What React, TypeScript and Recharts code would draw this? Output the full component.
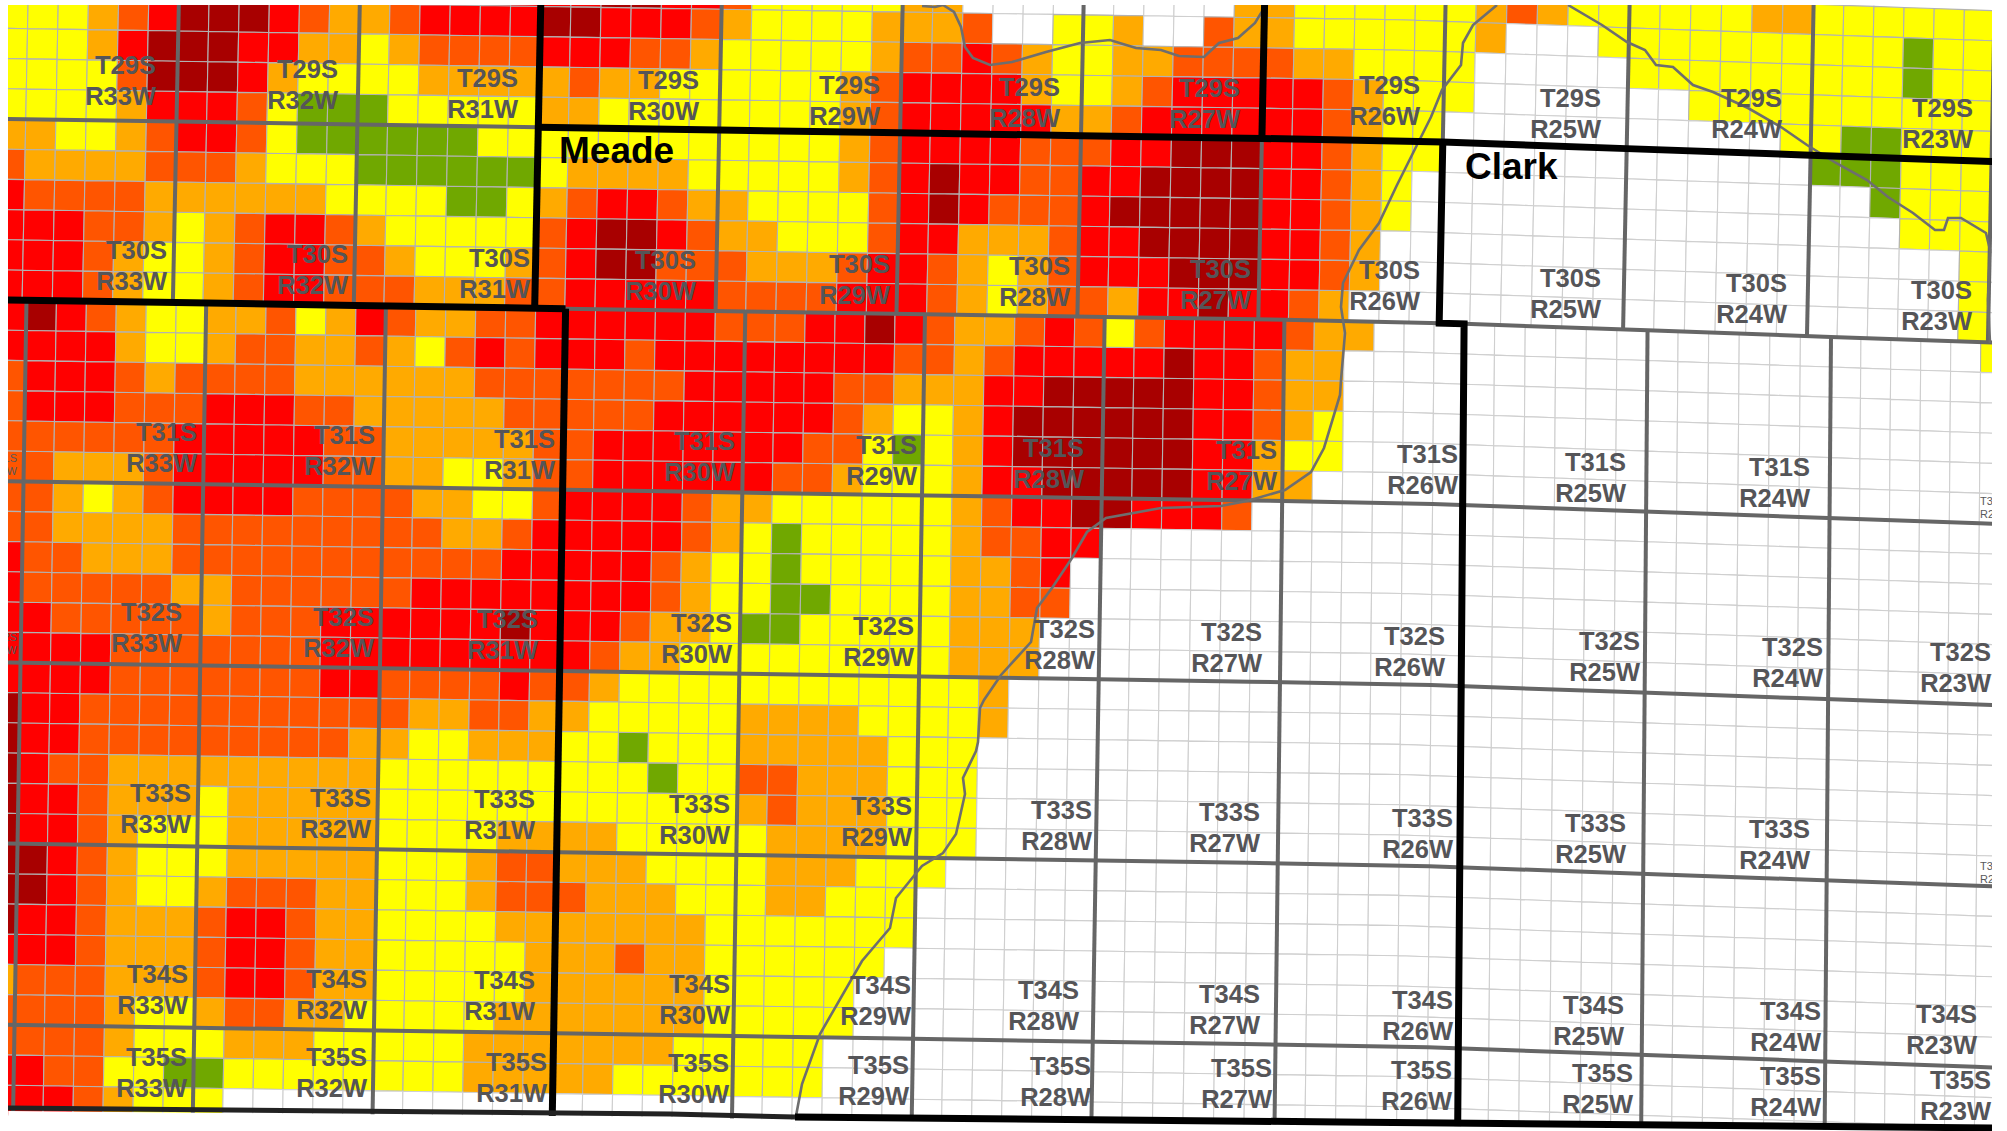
import { ScatterChart, Scatter, XAxis, YAxis } from "recharts";

const COLORS: Record<string, string> = {
  W: "#FFFFFF",
  Y: "#FFFF00",
  O: "#FFAA00",
  D: "#FF5500",
  R: "#FF0000",
  M: "#A80000",
  G: "#70A800",
};

// north block, townships T29S-T30S, one letter per section, R33W..R23W
const northRows = [
  "YYYODR MMMRDO ODRRRR RRMMRR DYYYYY OOWWWW WWWWWO OYYYYY YODOYY YYYYOO YYYYYY",
  "YYYODR MMMRDO ODRRRR MMRRRD OYYYYO OODWWY YOWWDO OYYYYY YOWWWY YYYYYY YYYGYY",
  "YYYORM MMRROO YODDDD RRRDDO YYYYYO DDRDOY YOODDD DOOYYY YWWWWW YYYYYY YYYGYY",
  "YYYYDM MMROYY YYOOOO ODOOYY YYYYOD RRRROY YODRRR RRDOYY YWWWWW WWYYYY YYYYYY",
  "YYYYOR RRDYGG GYYYYY OOYYYY YYYYOD RRRRRO ODRRRR RRDOYY WWWWWW WWWWWY YGGYYY",
  "OOYYOD RRDYGG GGGGYY YYYYYY YYYYOD RRRRDD DRRMMM RRDOYY WWWWWW WWWWWW GGGYYY",
  "DOOOOD DDOYYY GGGGGG YOOOOY YYYYOD RMRRDD RRMMMM RRDOYW WWWWWW WWWWWW WWGYYY",
  "RDDDDO OOOOOY YYYGGY ODRRDO OYYYYD RMRDDD RMMMMM RRDOYW WWWWWW WWWWWW WWWYYY",
  "RRRDDO YODRRD OYYYYY DRMMRD OOYYYD RROOOD RRMMMM RRDOWW WWWWWW WWWWWW WWWWWY",
  "RRRDOY YODRRD DOYYYO DRMMDD DOOODR RDOYOD RRRMMM RRDOWW WWWWWW WWWWWW WWWWWY",
  "RRRDOY YODRRD DDOOOD DRRRRR DDDDRR RDOYOD DORRMR RDOWWW WWWWWW WWWWWW WWWWWY",
];

// south block, T31S-T35S, first letter is the sliver of R34W, rest white to the east
const southRows = [
  "R MRDOYY OODYOR DOODDR RRRRRD DDRRMR DOODRD YDRRRR DOOWWW WWWWWW WWWWWW WWWWWY",
  "R RRROYY ODDOOD OYDRDR RRDRRR RRRRRD DODRRR RRMRRD OOWWWW",
  "D RRRDOD DDDOOO OOODDD DDDDRR RRRDDO OORRMM MMMRRD OOWWWW",
  "D RRRDDD RRRDDO OOOODD DDDRRR RRRDOY YORMMM MMMRRD OYWWWW",
  "D DDDDDR RRRRDD OOOOOD DRRRRR RRDDYG YORMMM MMMRRO YYWWWW",
  "D DOOODR RRRRDD OOYYOD DRRRRR RDDOYY YORRMM MMMRRO OWWWWW",
  "D DOYODR RRRDDD DOOYYD RRRRDO OYYYYY YODRRM MRRRDW WWWWWW",
  "D DOOOOD DDDDDD DDOODR RRRRDO YGYYYY YODDRR WWWWWW",
  "R DDOOOD DDDDDD DDDDRR RRRDOY YGYYYY YOODRW WWWWWW",
  "R DDDDDO ODDDDD DRRRRR RRRDOY YGGYYY YOODDW WWWWWW",
  "R RDDDDD ODDDRR RRRRMR RRDOOY GGYYYY YOOOWW",
  "R RRRDDD DDDDRR RRRRRR RDOOYY YYYYYY YOOOWW",
  "R RRRDDD DDDDRR DDDDRD DOYYYY YYYYYY YYOWWW",
  "M RRDDDD DDDDDD DOODDO OYYYYY OOOOYY YYOWWW",
  "M RRDDDD DDDDDO OYYOOO YYGYYY OOOOOY YYWWWW",
  "M RDDOOO OOOOOO YYYYYY YYYGYY DDOOOY YYWWWW",
  "M RRDOOO YOOOOO YYYYYY YYYYYY ODOOOY YYWWWW",
  "M RRDOYY YOOOOO YYYYOO OOYYYY YOOOOY YYWWWW",
  "M MRDOYY YOOOOO YYYODD OOOYYY YOOOYY YWWWWW",
  "M MRDOYY ODDDOO YYYODD DOOOYY YOOYYY WWWWWW",
  "M RRDOOO DRRDOO YYYYOO OOOOOY YYYYYY WWWWWW",
  "R RRDOOO DRRDOO YYYYYO OODOOY YYYYYW WWWWWW",
  "O DDDOOO DRRDOO YYYYYO OOOOOY YYYYWW WWWWWW",
  "D DDDOYY ODDOOY YYYYOO OOOOOY YYYYWW WWWWWW",
  "D DDDOYY YOOOYY YYYOOO OOOOYY YYYWWW WWWWWW",
  "R RDDYYG GYYYYY YYYOOO OOYYYY YYYWWW WWWWWW",
  "R RRDOYY YWWWWW",
];

// township, range, right edge of the text, baseline of the first line
const townshipLabels: [string, string, number, number][] = [
  ["T29S", "R33W", 156, 74], ["T29S", "R32W", 338, 78], ["T29S", "R31W", 518, 87],
  ["T29S", "R30W", 699, 89], ["T29S", "R29W", 880, 94], ["T29S", "R28W", 1060, 96],
  ["T29S", "R27W", 1240, 97], ["T29S", "R26W", 1420, 94], ["T29S", "R25W", 1601, 107],
  ["T29S", "R24W", 1782, 107], ["T29S", "R23W", 1973, 117],
  ["T30S", "R33W", 167, 259], ["T30S", "R32W", 348, 263], ["T30S", "R31W", 530, 267],
  ["T30S", "R30W", 696, 269], ["T30S", "R29W", 890, 273], ["T30S", "R28W", 1070, 275],
  ["T30S", "R27W", 1251, 278], ["T30S", "R26W", 1420, 279], ["T30S", "R25W", 1601, 287],
  ["T30S", "R24W", 1787, 292], ["T30S", "R23W", 1972, 299],
  ["T31S", "R33W", 197, 441], ["T31S", "R32W", 375, 444], ["T31S", "R31W", 555, 448],
  ["T31S", "R30W", 735, 450], ["T31S", "R29W", 917, 454], ["T31S", "R28W", 1084, 457],
  ["T31S", "R27W", 1277, 459], ["T31S", "R26W", 1458, 463], ["T31S", "R25W", 1626, 471],
  ["T31S", "R24W", 1810, 476],
  ["T32S", "R33W", 182, 621], ["T32S", "R32W", 374, 626], ["T32S", "R31W", 538, 628],
  ["T32S", "R30W", 732, 632], ["T32S", "R29W", 914, 635], ["T32S", "R28W", 1095, 638],
  ["T32S", "R27W", 1262, 641], ["T32S", "R26W", 1445, 645], ["T32S", "R25W", 1640, 650],
  ["T32S", "R24W", 1823, 656], ["T32S", "R23W", 1991, 661],
  ["T33S", "R33W", 191, 802], ["T33S", "R32W", 371, 807], ["T33S", "R31W", 535, 808],
  ["T33S", "R30W", 730, 813], ["T33S", "R29W", 912, 815], ["T33S", "R28W", 1092, 819],
  ["T33S", "R27W", 1260, 821], ["T33S", "R26W", 1453, 827], ["T33S", "R25W", 1626, 832],
  ["T33S", "R24W", 1810, 838],
  ["T34S", "R33W", 188, 983], ["T34S", "R32W", 367, 988], ["T34S", "R31W", 535, 989],
  ["T34S", "R30W", 730, 993], ["T34S", "R29W", 911, 994], ["T34S", "R28W", 1079, 999],
  ["T34S", "R27W", 1260, 1003], ["T34S", "R26W", 1453, 1009], ["T34S", "R25W", 1624, 1014],
  ["T34S", "R24W", 1821, 1020], ["T34S", "R23W", 1977, 1023],
  ["T35S", "R33W", 187, 1066], ["T35S", "R32W", 367, 1066], ["T35S", "R31W", 547, 1071],
  ["T35S", "R30W", 729, 1072], ["T35S", "R29W", 909, 1074], ["T35S", "R28W", 1091, 1075],
  ["T35S", "R27W", 1272, 1077], ["T35S", "R26W", 1452, 1079], ["T35S", "R25W", 1633, 1082],
  ["T35S", "R24W", 1821, 1085], ["T35S", "R23W", 1991, 1089],
];

// tiny labels of the neighbouring sheet, cut by the frame
const edgeLabels: [string, string, number, number, string][] = [
  ["T31S", "R34W", 17, 462, "end"],
  ["T32S", "R34W", 17, 641, "end"],
  ["T31S", "R23W", 1980, 505, "start"],
  ["T33S", "R23W", 1980, 870, "start"],
];

const countyNames: [string, number, number][] = [
  ["Meade", 559, 163],
  ["Clark", 1465, 179],
];

const riverTop = [[922, 6], [935, 7], [943, 5], [954, 12], [961, 27], [965, 47], [973, 58], [990, 65], [1012, 62], [1046, 52], [1080, 43], [1110, 40], [1136, 48], [1161, 50], [1179, 56], [1204, 57], [1219, 43], [1238, 38], [1255, 23], [1266, 5]];
const riverMain = [[1497, 5], [1473, 25], [1463, 43], [1461, 65], [1442, 90], [1431, 117], [1416, 147], [1397, 185], [1379, 223], [1359, 250], [1343, 283], [1341, 307], [1345, 333], [1341, 380], [1340, 395], [1324, 448], [1311, 472], [1285, 490], [1247, 501], [1221, 506], [1161, 508], [1106, 518], [1087, 532], [1072, 558], [1052, 588], [1037, 608], [1031, 642], [1001, 675], [984, 700], [980, 708], [978, 742], [976, 751], [963, 778], [965, 794], [956, 834], [943, 853], [922, 866], [896, 898], [890, 928], [862, 961], [820, 1034], [802, 1084], [796, 1116]];
const riverEast = [[1568, 5], [1602, 25], [1627, 42], [1645, 50], [1656, 65], [1673, 67], [1693, 85], [1713, 92], [1748, 108], [1781, 127], [1807, 145], [1836, 163], [1867, 180], [1888, 197], [1913, 213], [1935, 230], [1944, 230], [1948, 218], [1961, 218], [1986, 233], [1990, 250], [1988, 300], [1990, 343]];
const southBorderThin = [[8, 1108], [670, 1114], [795, 1117]];
const southBorderThick = [[795, 1117], [1340, 1122], [2000, 1128]];

const WIDTH = 1984;
const HEIGHT = 1126;
const ROW_H = 30.2;

// the sheet is a slightly warped scan, the tilt grows toward the east
const tiltY = (x: number) => 0.0155 * (x - 8) + 0.02 * Math.max(0, x - 1400);

const northPoint = (c: number, r: number) => {
  const stretch = 0.5 * Math.min(12, Math.max(0, c - 48));
  const x = 176.5 + (c - 6) * 30.15 + stretch - 0.02 * (r - 5) * ROW_H;
  return { x, y: 119 + (r - 5) * ROW_H + tiltY(x) };
};

const southPoint = (k: number, b: number) => {
  const stretch = 0.625 * Math.min(12, Math.max(0, k - 49));
  const lean = 0.0165 - 0.0085 * Math.min(1, Math.max(0, (k - 37) / 12));
  const x = 26.5 + (k - 1) * 29.95 + stretch - lean * b * ROW_H;
  return { x, y: 300 + b * ROW_H + tiltY(x) };
};

const buildCells = (rows: string[], project: (c: number, r: number) => { x: number; y: number }) =>
  rows.flatMap((row, r) =>
    row
      .replace(/ /g, "")
      .padEnd(68, "W")
      .split("")
      .map((code, c) => {
        const mid = project(c + 0.5, r + 0.5);
        const corners = [project(c, r), project(c + 1, r), project(c + 1, r + 1), project(c, r + 1)].map((p) => [p.x - mid.x, p.y - mid.y]);
        return { x: mid.x, y: mid.y, code, corners };
      }),
  );

const Cell = (props: any) => {
  const { cx, cy, payload } = props;
  const pts = payload.corners.map((p: number[]) => `${cx + p[0]},${cy + p[1]}`).join(" ");
  return <polygon points={pts} fill={COLORS[payload.code]} stroke={payload.code === "W" ? "#cfcfcf" : "#b2b2b2"} strokeWidth={1.1} />;
};

const Nothing = () => <g />;

const toPts = (list: number[][]) => list.map(([x, y]) => ({ x, y }));

const along = (project: (c: number, r: number) => { x: number; y: number }, r: number, from: number, to: number) => {
  const pts = [];
  for (let c = from; c <= to; c += 6) pts.push(project(c, r));
  if (pts.length && (to - from) % 6 !== 0) pts.push(project(to, r));
  return pts;
};

const down = (project: (c: number, r: number) => { x: number; y: number }, c: number, from: number, to: number) => [project(c, from), project(c, to)];

const grayLines = [
  ...[6, 12, 24, 30, 36, 42, 54, 60, 66].map((c) => down(northPoint, c, 0, 11)),
  down(northPoint, 48, 0, 5),
  along(northPoint, 5, 0, 18),
  ...[1, 7, 13, 25, 31, 37, 43, 55, 61].map((k) => down(southPoint, k, 0, 29)),
  along(southPoint, 0, 19, 67),
  ...[6, 12, 18, 24].map((b) => along(southPoint, b, 0, 67)),
];

const blackLines = [
  down(northPoint, 18, 0, 11),
  down(northPoint, 42, 0, 5),
  along(northPoint, 5, 18, 67),
  along(southPoint, 0, 0, 19),
  down(southPoint, 19, 0, 29),
  [...down(northPoint, 48, 5, 11), southPoint(49, 0), southPoint(49, 29)],
];

const townshipPoints = townshipLabels.map(([t, r, x, y]) => ({ t, r, x, y }));
const edgePoints = edgeLabels.map(([t, r, x, y, anchor]) => ({ t, r, x, y, anchor }));
const countyPoints = countyNames.map(([name, x, y]) => ({ name, x, y }));

const TownshipLabel = (props: any) => {
  const { cx, cy, payload } = props;
  return (
    <text textAnchor="end" fontFamily="Liberation Sans" fontWeight="bold" fontSize={25.5} fill="#555558">
      <tspan x={cx} y={cy}>{payload.t}</tspan>
      <tspan x={cx} y={cy + 31}>{payload.r}</tspan>
    </text>
  );
};

const EdgeLabel = (props: any) => {
  const { cx, cy, payload } = props;
  return (
    <text textAnchor={payload.anchor} fontFamily="Liberation Sans" fontSize={11} fill="#58595B">
      <tspan x={cx} y={cy}>{payload.t}</tspan>
      <tspan x={cx} y={cy + 13}>{payload.r}</tspan>
    </text>
  );
};

const CountyLabel = (props: any) => (
  <text x={props.cx} y={props.cy} fontFamily="Liberation Sans" fontWeight="bold" fontSize={37} fill="#000">
    {props.payload.name}
  </text>
);

const northCells = buildCells(northRows, northPoint);
const southCells = buildCells(southRows, southPoint);

const line = (pts: { x: number; y: number }[], stroke: string, strokeWidth: number, key: string) => (
  <Scatter key={key} data={pts} line={{ stroke, strokeWidth }} shape={Nothing} isAnimationActive={false} />
);

export default function App() {
  return (
    <div style={{ position: "absolute", left: 8, top: 5, width: WIDTH, height: HEIGHT }}>
      <ScatterChart width={WIDTH} height={HEIGHT} margin={{ top: 0, right: 0, bottom: 0, left: 0 }}>
        <XAxis type="number" dataKey="x" domain={[8, 1992]} allowDataOverflow hide />
        <YAxis type="number" dataKey="y" domain={[5, 1131]} allowDataOverflow reversed hide />
        <Scatter data={northCells} shape={Cell} isAnimationActive={false} />
        <Scatter data={southCells} shape={Cell} isAnimationActive={false} />
        {grayLines.map((pts, i) => line(pts, "#666666", 4, `gray${i}`))}
        {line(toPts(riverTop), "#6e6e6e", 2.6, "riverTop")}
        {line(toPts(riverMain), "#6e6e6e", 2.6, "riverMain")}
        {line(toPts(riverEast), "#6e6e6e", 2.6, "riverEast")}
        {blackLines.map((pts, i) => line(pts, "#000000", 7, `black${i}`))}
        {line(toPts(southBorderThin.map(([x, y]) => [x, y + 28])), "#ffffff", 50, "maskWest")}
        {line(toPts(southBorderThick.map(([x, y]) => [x, y + 28])), "#ffffff", 50, "maskEast")}
        {line(toPts(southBorderThin), "#222222", 5, "borderThin")}
        {line(toPts(southBorderThick), "#000000", 7, "borderThick")}
        <Scatter data={edgePoints} shape={EdgeLabel} isAnimationActive={false} />
        <Scatter data={townshipPoints} shape={TownshipLabel} isAnimationActive={false} />
        <Scatter data={countyPoints} shape={CountyLabel} isAnimationActive={false} />
      </ScatterChart>
    </div>
  );
}
